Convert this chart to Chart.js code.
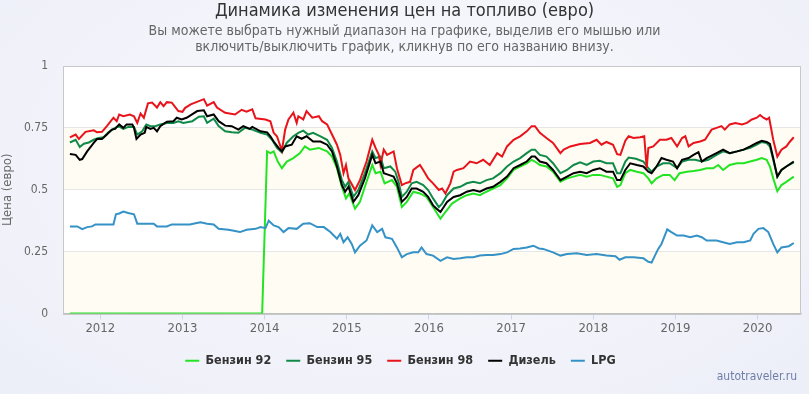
<!DOCTYPE html>
<html>
<head>
<meta charset="utf-8">
<script src="https://cdn.jsdelivr.net/npm/chart.js@4"></script>
<style>
  html, body { margin: 0; padding: 0; }
  body {
    width: 809px; height: 394px; overflow: hidden; position: relative;
    background: radial-gradient(ellipse at 50% 40%, #fbfbfe 0%, #f2f3fa 60%, #eceef8 100%);
    font-family: 'Liberation Sans Narrow', 'DejaVu Sans Condensed', 'Roboto', sans-serif;
  }
  #chart { position: absolute; left: 0; top: 0; }
  .title { position: absolute; left: 0; width: 809px; text-align: center; top: 0; font-size: 18px; color: #333; line-height: 20px; }
  .subtitle { position: absolute; left: 0; width: 809px; text-align: center; top: 22px; font-size: 14px; color: #666; line-height: 16px; }
  .credit { position: absolute; right: 12px; top: 369px; font-size: 12px; color: #6d7fa8; }
</style>
</head>
<body>
<canvas id="chart" width="809" height="394"></canvas>
<div class="title">Динамика изменения цен на топливо (евро)</div>
<div class="subtitle">Вы можете выбрать нужный диапазон на графике, выделив его мышью или<br>включить/выключить график, кликнув по его названию внизу.</div>
<div class="credit">autotraveler.ru</div>
<script>
// Series names and tick values
const seriesNames = ['Бензин 92', 'Бензин 95', 'Бензин 98', 'Дизель', 'LPG'];
const yearTicks = [2012, 2013, 2014, 2015, 2016, 2017, 2018, 2019, 2020];
const priceTicks = [0, 0.25, 0.5, 0.75, 1];

// Бензин 92 (no data before 2014 -> 0)
const dates92 = [2011.63, 2013.97, 2014.03, 2014.07, 2014.11, 2014.16, 2014.21, 2014.27, 2014.35, 2014.43, 2014.49, 2014.55, 2014.66, 2014.76, 2014.82, 2014.88, 2014.94, 2014.99, 2015.03, 2015.10, 2015.16, 2015.22, 2015.31, 2015.35, 2015.41, 2015.46, 2015.55, 2015.61, 2015.67, 2015.73, 2015.81, 2015.89, 2015.97, 2016.05, 2016.14, 2016.20, 2016.28, 2016.38, 2016.46, 2016.54, 2016.62, 2016.70, 2016.78, 2016.87, 2016.95, 2017.03, 2017.11, 2017.19, 2017.25, 2017.29, 2017.35, 2017.43, 2017.51, 2017.60, 2017.68, 2017.76, 2017.84, 2017.92, 2018.00, 2018.08, 2018.16, 2018.24, 2018.29, 2018.33, 2018.39, 2018.45, 2018.53, 2018.61, 2018.67, 2018.71, 2018.77, 2018.85, 2018.93, 2018.99, 2019.05, 2019.14, 2019.22, 2019.30, 2019.38, 2019.46, 2019.52, 2019.58, 2019.66, 2019.75, 2019.83, 2019.91, 2019.99, 2020.05, 2020.11, 2020.15, 2020.19, 2020.24, 2020.29, 2020.35, 2020.44];
const petrol92 = [0, 0, 0.655, 0.648, 0.655, 0.614, 0.587, 0.614, 0.628, 0.648, 0.675, 0.662, 0.669, 0.655, 0.634, 0.587, 0.512, 0.465, 0.485, 0.424, 0.451, 0.512, 0.600, 0.567, 0.573, 0.526, 0.539, 0.512, 0.430, 0.451, 0.492, 0.485, 0.471, 0.430, 0.383, 0.410, 0.444, 0.465, 0.478, 0.485, 0.478, 0.492, 0.505, 0.519, 0.546, 0.580, 0.594, 0.607, 0.621, 0.614, 0.600, 0.594, 0.573, 0.532, 0.546, 0.553, 0.560, 0.553, 0.560, 0.560, 0.553, 0.546, 0.512, 0.519, 0.567, 0.580, 0.573, 0.567, 0.546, 0.526, 0.546, 0.560, 0.560, 0.539, 0.567, 0.573, 0.576, 0.580, 0.587, 0.587, 0.600, 0.580, 0.600, 0.607, 0.607, 0.614, 0.621, 0.628, 0.621, 0.594, 0.546, 0.494, 0.519, 0.532, 0.553];

// Бензин 95
const dates95 = [2011.63, 2011.70, 2011.75, 2011.80, 2011.86, 2011.92, 2011.98, 2012.04, 2012.10, 2012.16, 2012.22, 2012.28, 2012.34, 2012.41, 2012.45, 2012.51, 2012.56, 2012.61, 2012.67, 2012.73, 2012.81, 2012.89, 2012.95, 2013.01, 2013.12, 2013.20, 2013.26, 2013.30, 2013.38, 2013.44, 2013.52, 2013.60, 2013.68, 2013.76, 2013.85, 2013.95, 2014.03, 2014.09, 2014.15, 2014.21, 2014.27, 2014.35, 2014.41, 2014.47, 2014.53, 2014.59, 2014.68, 2014.76, 2014.82, 2014.88, 2014.94, 2014.98, 2015.02, 2015.08, 2015.14, 2015.22, 2015.31, 2015.35, 2015.41, 2015.45, 2015.53, 2015.59, 2015.63, 2015.67, 2015.73, 2015.79, 2015.85, 2015.93, 2015.99, 2016.05, 2016.12, 2016.16, 2016.22, 2016.30, 2016.38, 2016.46, 2016.54, 2016.62, 2016.70, 2016.78, 2016.87, 2016.95, 2017.03, 2017.11, 2017.19, 2017.25, 2017.29, 2017.35, 2017.43, 2017.51, 2017.60, 2017.68, 2017.76, 2017.84, 2017.92, 2018.00, 2018.08, 2018.16, 2018.24, 2018.29, 2018.33, 2018.39, 2018.43, 2018.52, 2018.61, 2018.67, 2018.71, 2018.77, 2018.85, 2018.93, 2019.02, 2019.08, 2019.16, 2019.24, 2019.32, 2019.40, 2019.50, 2019.58, 2019.66, 2019.75, 2019.83, 2019.91, 2019.99, 2020.05, 2020.11, 2020.15, 2020.19, 2020.24, 2020.29, 2020.35, 2020.44];
const petrol95 = [0.691, 0.702, 0.673, 0.686, 0.691, 0.702, 0.709, 0.712, 0.732, 0.746, 0.757, 0.746, 0.754, 0.754, 0.723, 0.736, 0.764, 0.757, 0.757, 0.764, 0.770, 0.770, 0.777, 0.770, 0.777, 0.795, 0.797, 0.770, 0.787, 0.757, 0.736, 0.732, 0.730, 0.750, 0.743, 0.730, 0.723, 0.702, 0.669, 0.651, 0.690, 0.716, 0.730, 0.739, 0.723, 0.730, 0.716, 0.702, 0.669, 0.614, 0.539, 0.512, 0.532, 0.471, 0.499, 0.567, 0.655, 0.628, 0.634, 0.587, 0.594, 0.573, 0.532, 0.471, 0.492, 0.526, 0.532, 0.519, 0.499, 0.465, 0.430, 0.444, 0.478, 0.505, 0.512, 0.526, 0.532, 0.526, 0.539, 0.546, 0.567, 0.594, 0.614, 0.628, 0.648, 0.662, 0.662, 0.641, 0.634, 0.607, 0.567, 0.580, 0.600, 0.611, 0.600, 0.614, 0.617, 0.607, 0.607, 0.567, 0.567, 0.614, 0.630, 0.625, 0.614, 0.587, 0.573, 0.594, 0.607, 0.607, 0.587, 0.614, 0.621, 0.621, 0.614, 0.621, 0.641, 0.655, 0.648, 0.655, 0.662, 0.669, 0.682, 0.693, 0.689, 0.675, 0.621, 0.553, 0.580, 0.594, 0.611];

// Бензин 98
const dates98 = [2011.63, 2011.70, 2011.74, 2011.82, 2011.92, 2011.96, 2012.02, 2012.08, 2012.16, 2012.20, 2012.23, 2012.28, 2012.36, 2012.41, 2012.45, 2012.49, 2012.53, 2012.58, 2012.63, 2012.69, 2012.73, 2012.77, 2012.81, 2012.87, 2012.95, 2013.00, 2013.03, 2013.10, 2013.26, 2013.30, 2013.38, 2013.42, 2013.52, 2013.64, 2013.72, 2013.78, 2013.85, 2013.89, 2014.01, 2014.07, 2014.11, 2014.15, 2014.21, 2014.25, 2014.29, 2014.35, 2014.39, 2014.41, 2014.47, 2014.51, 2014.58, 2014.66, 2014.70, 2014.76, 2014.82, 2014.88, 2014.92, 2014.96, 2014.99, 2015.02, 2015.10, 2015.16, 2015.24, 2015.31, 2015.35, 2015.39, 2015.41, 2015.45, 2015.49, 2015.57, 2015.61, 2015.67, 2015.71, 2015.77, 2015.81, 2015.89, 2015.93, 2015.99, 2016.05, 2016.12, 2016.16, 2016.20, 2016.26, 2016.30, 2016.34, 2016.42, 2016.50, 2016.58, 2016.66, 2016.74, 2016.83, 2016.89, 2016.95, 2017.03, 2017.11, 2017.19, 2017.25, 2017.29, 2017.35, 2017.43, 2017.51, 2017.60, 2017.64, 2017.72, 2017.84, 2017.96, 2018.04, 2018.10, 2018.16, 2018.24, 2018.29, 2018.33, 2018.39, 2018.43, 2018.49, 2018.57, 2018.62, 2018.65, 2018.67, 2018.73, 2018.81, 2018.89, 2018.95, 2019.02, 2019.08, 2019.12, 2019.16, 2019.22, 2019.30, 2019.36, 2019.44, 2019.50, 2019.56, 2019.60, 2019.66, 2019.73, 2019.81, 2019.87, 2019.93, 2019.99, 2020.03, 2020.07, 2020.11, 2020.14, 2020.19, 2020.24, 2020.29, 2020.35, 2020.39, 2020.44];
const petrol98 = [0.712, 0.723, 0.705, 0.734, 0.740, 0.732, 0.734, 0.757, 0.791, 0.777, 0.804, 0.797, 0.804, 0.797, 0.770, 0.808, 0.791, 0.849, 0.852, 0.832, 0.854, 0.838, 0.854, 0.852, 0.818, 0.815, 0.830, 0.845, 0.866, 0.840, 0.854, 0.832, 0.811, 0.804, 0.823, 0.815, 0.825, 0.789, 0.784, 0.777, 0.730, 0.716, 0.658, 0.743, 0.784, 0.811, 0.770, 0.797, 0.784, 0.818, 0.791, 0.797, 0.777, 0.764, 0.723, 0.682, 0.641, 0.567, 0.600, 0.546, 0.499, 0.539, 0.614, 0.702, 0.669, 0.641, 0.600, 0.662, 0.641, 0.655, 0.587, 0.519, 0.526, 0.532, 0.580, 0.600, 0.580, 0.546, 0.526, 0.499, 0.505, 0.485, 0.526, 0.573, 0.580, 0.587, 0.614, 0.607, 0.621, 0.600, 0.648, 0.634, 0.675, 0.702, 0.716, 0.736, 0.757, 0.757, 0.730, 0.709, 0.689, 0.648, 0.662, 0.675, 0.685, 0.689, 0.702, 0.682, 0.693, 0.682, 0.644, 0.641, 0.698, 0.716, 0.709, 0.712, 0.716, 0.587, 0.669, 0.675, 0.702, 0.702, 0.709, 0.675, 0.709, 0.716, 0.675, 0.689, 0.695, 0.702, 0.743, 0.750, 0.757, 0.743, 0.764, 0.770, 0.764, 0.770, 0.784, 0.791, 0.802, 0.791, 0.784, 0.791, 0.702, 0.634, 0.662, 0.675, 0.693, 0.712];

// Дизель
const datesDiesel = [2011.63, 2011.70, 2011.75, 2011.78, 2011.84, 2011.92, 2011.96, 2012.02, 2012.08, 2012.14, 2012.18, 2012.23, 2012.28, 2012.32, 2012.39, 2012.41, 2012.44, 2012.49, 2012.54, 2012.56, 2012.61, 2012.65, 2012.69, 2012.73, 2012.81, 2012.89, 2012.93, 2012.99, 2013.05, 2013.18, 2013.26, 2013.30, 2013.38, 2013.44, 2013.52, 2013.60, 2013.68, 2013.74, 2013.82, 2013.85, 2013.95, 2014.03, 2014.07, 2014.11, 2014.17, 2014.21, 2014.25, 2014.33, 2014.39, 2014.45, 2014.51, 2014.59, 2014.68, 2014.76, 2014.82, 2014.88, 2014.94, 2014.98, 2015.02, 2015.08, 2015.14, 2015.22, 2015.31, 2015.35, 2015.41, 2015.45, 2015.51, 2015.57, 2015.61, 2015.67, 2015.73, 2015.79, 2015.85, 2015.93, 2015.99, 2016.05, 2016.09, 2016.14, 2016.18, 2016.22, 2016.30, 2016.38, 2016.46, 2016.54, 2016.62, 2016.70, 2016.78, 2016.87, 2016.95, 2017.03, 2017.11, 2017.19, 2017.25, 2017.29, 2017.35, 2017.43, 2017.51, 2017.60, 2017.68, 2017.76, 2017.84, 2017.92, 2018.00, 2018.08, 2018.16, 2018.24, 2018.29, 2018.33, 2018.39, 2018.45, 2018.53, 2018.61, 2018.67, 2018.71, 2018.77, 2018.83, 2018.89, 2018.97, 2019.02, 2019.08, 2019.16, 2019.22, 2019.28, 2019.32, 2019.38, 2019.50, 2019.58, 2019.66, 2019.75, 2019.83, 2019.91, 2019.99, 2020.05, 2020.11, 2020.15, 2020.19, 2020.24, 2020.29, 2020.35, 2020.44];
const diesel = [0.644, 0.641, 0.621, 0.624, 0.655, 0.689, 0.705, 0.705, 0.723, 0.743, 0.746, 0.764, 0.750, 0.764, 0.764, 0.750, 0.705, 0.723, 0.730, 0.754, 0.746, 0.750, 0.736, 0.757, 0.775, 0.777, 0.791, 0.784, 0.791, 0.818, 0.821, 0.797, 0.804, 0.777, 0.759, 0.757, 0.743, 0.757, 0.746, 0.754, 0.736, 0.732, 0.716, 0.695, 0.669, 0.655, 0.675, 0.682, 0.716, 0.706, 0.716, 0.695, 0.695, 0.682, 0.655, 0.594, 0.519, 0.492, 0.512, 0.451, 0.478, 0.546, 0.641, 0.607, 0.614, 0.567, 0.560, 0.553, 0.526, 0.451, 0.471, 0.505, 0.505, 0.492, 0.471, 0.437, 0.424, 0.410, 0.430, 0.451, 0.471, 0.478, 0.492, 0.499, 0.492, 0.505, 0.512, 0.532, 0.553, 0.587, 0.600, 0.614, 0.634, 0.634, 0.614, 0.607, 0.580, 0.539, 0.553, 0.567, 0.573, 0.567, 0.580, 0.587, 0.573, 0.573, 0.539, 0.539, 0.580, 0.607, 0.600, 0.594, 0.573, 0.567, 0.594, 0.628, 0.621, 0.614, 0.587, 0.621, 0.628, 0.641, 0.652, 0.614, 0.628, 0.648, 0.662, 0.648, 0.655, 0.662, 0.675, 0.689, 0.698, 0.693, 0.685, 0.628, 0.553, 0.580, 0.594, 0.614];

// LPG
const datesLpg = [2011.63, 2011.72, 2011.78, 2011.84, 2011.90, 2011.94, 2012.16, 2012.19, 2012.23, 2012.28, 2012.34, 2012.41, 2012.45, 2012.65, 2012.69, 2012.81, 2012.87, 2013.09, 2013.16, 2013.22, 2013.30, 2013.38, 2013.44, 2013.56, 2013.64, 2013.70, 2013.78, 2013.89, 2013.95, 2014.01, 2014.05, 2014.11, 2014.17, 2014.23, 2014.29, 2014.39, 2014.47, 2014.55, 2014.64, 2014.72, 2014.80, 2014.88, 2014.92, 2014.96, 2015.01, 2015.06, 2015.10, 2015.16, 2015.24, 2015.31, 2015.37, 2015.43, 2015.47, 2015.55, 2015.61, 2015.67, 2015.73, 2015.81, 2015.87, 2015.91, 2015.97, 2016.05, 2016.14, 2016.22, 2016.30, 2016.38, 2016.46, 2016.54, 2016.62, 2016.70, 2016.78, 2016.87, 2016.95, 2017.03, 2017.11, 2017.19, 2017.27, 2017.34, 2017.39, 2017.51, 2017.60, 2017.68, 2017.80, 2017.92, 2018.04, 2018.16, 2018.27, 2018.32, 2018.39, 2018.49, 2018.61, 2018.67, 2018.71, 2018.75, 2018.79, 2018.83, 2018.87, 2018.90, 2018.95, 2019.02, 2019.10, 2019.18, 2019.26, 2019.32, 2019.38, 2019.50, 2019.58, 2019.66, 2019.75, 2019.83, 2019.91, 2019.95, 2020.01, 2020.07, 2020.13, 2020.19, 2020.24, 2020.29, 2020.38, 2020.44];
const lpg = [0.352, 0.352, 0.341, 0.349, 0.352, 0.360, 0.360, 0.401, 0.404, 0.412, 0.406, 0.401, 0.363, 0.363, 0.352, 0.352, 0.360, 0.360, 0.365, 0.369, 0.363, 0.360, 0.342, 0.338, 0.333, 0.329, 0.338, 0.342, 0.349, 0.345, 0.375, 0.356, 0.349, 0.329, 0.345, 0.342, 0.363, 0.365, 0.349, 0.349, 0.329, 0.302, 0.322, 0.288, 0.308, 0.281, 0.247, 0.274, 0.295, 0.356, 0.329, 0.342, 0.308, 0.302, 0.267, 0.227, 0.240, 0.247, 0.247, 0.267, 0.240, 0.234, 0.213, 0.227, 0.220, 0.223, 0.227, 0.227, 0.234, 0.236, 0.236, 0.240, 0.247, 0.261, 0.263, 0.267, 0.274, 0.263, 0.261, 0.247, 0.234, 0.240, 0.243, 0.236, 0.240, 0.234, 0.231, 0.217, 0.227, 0.227, 0.223, 0.209, 0.206, 0.234, 0.261, 0.281, 0.315, 0.340, 0.329, 0.315, 0.315, 0.308, 0.315, 0.308, 0.295, 0.295, 0.288, 0.281, 0.288, 0.288, 0.295, 0.322, 0.342, 0.345, 0.329, 0.281, 0.247, 0.267, 0.272, 0.285];

const colors = ['#22e422', '#0f8a48', '#e8131b', '#000000', '#3592c6'];

function pairs(xs, ys) {
  return xs.map((x, i) => ({ x: x, y: ys[i] }));
}

const seriesData = [
  pairs(dates92, petrol92),
  pairs(dates95, petrol95),
  pairs(dates98, petrol98),
  pairs(datesDiesel, diesel),
  pairs(datesLpg, lpg)
];

// plot bands + border, like the original
const plotBands = {
  id: 'plotBands',
  beforeDatasetsDraw(chart) {
    const { ctx, chartArea: a } = chart;
    ctx.save();
    ctx.strokeStyle = '#c8c8c8';
    ctx.lineWidth = 1;
    ctx.strokeRect(Math.round(a.left) + 0.5, Math.round(a.top) + 0.5, Math.round(a.right - a.left) - 1, Math.round(a.bottom - a.top));
    ctx.restore();
  },
  beforeDraw(chart) {
    const { ctx, chartArea: a, scales: { y } } = chart;
    ctx.save();
    ctx.fillStyle = '#ffffff';
    ctx.fillRect(a.left, a.top, a.right - a.left, a.bottom - a.top);
    ctx.fillStyle = '#fffdf3';
    [[0, 0.25], [0.5, 0.75]].forEach(([from, to]) => {
      const y1 = y.getPixelForValue(to), y2 = y.getPixelForValue(from);
      ctx.fillRect(a.left, y1, a.right - a.left, y2 - y1);
    });
    ctx.restore();
  }
};

const FONT = "'Liberation Sans Narrow', 'DejaVu Sans Condensed', 'Roboto', sans-serif";

new Chart(document.getElementById('chart'), {
  type: 'line',
  data: {
    datasets: seriesNames.map((name, i) => ({
      label: name,
      data: seriesData[i],
      borderColor: colors[i],
      backgroundColor: colors[i],
      borderWidth: 2,
      pointRadius: 0,
      tension: 0,
      order: 5 - i
    }))
  },
  options: {
    responsive: false,
    animation: false,
    layout: { padding: { left: 0, right: 8, top: 66, bottom: 17 } },
    plugins: {
      legend: {
        position: 'bottom',
        labels: {
          usePointStyle: true,
          pointStyle: 'line',
          pointStyleWidth: 14,
          padding: 15,
          color: '#333',
          font: { family: FONT, size: 12.5, weight: 'bold' },
          sort: (a, b) => a.datasetIndex - b.datasetIndex
        }
      },
      tooltip: { enabled: false }
    },
    scales: {
      x: {
        type: 'linear',
        min: 2011.546,
        max: 2020.528,
        afterBuildTicks: s => { s.ticks = yearTicks.map(v => ({ value: v })); },
        afterFit: s => { s.height = 26; },
        grid: { drawOnChartArea: false, drawTicks: true, tickLength: 6, color: '#ccd6eb' },
        border: { color: '#c0c0c0' },
        ticks: { color: '#666', padding: 1, font: { family: FONT, size: 13 }, callback: v => String(v), maxRotation: 0 }
      },
      y: {
        min: 0,
        max: 1,
        afterBuildTicks: s => { s.ticks = priceTicks.map(v => ({ value: v })); },
        afterFit: s => { s.width = 63; },
        title: { display: true, text: 'Цена (евро)', color: '#666', font: { family: FONT, size: 13 }, padding: 0 },
        grid: { color: '#e6e6e6', drawTicks: false },
        border: { display: false },
        ticks: { color: '#666', padding: 15, font: { family: FONT, size: 12 }, callback: v => String(Math.round(v * 100) / 100) }
      }
    }
  },
  plugins: [plotBands]
});
</script>
</body>
</html>
